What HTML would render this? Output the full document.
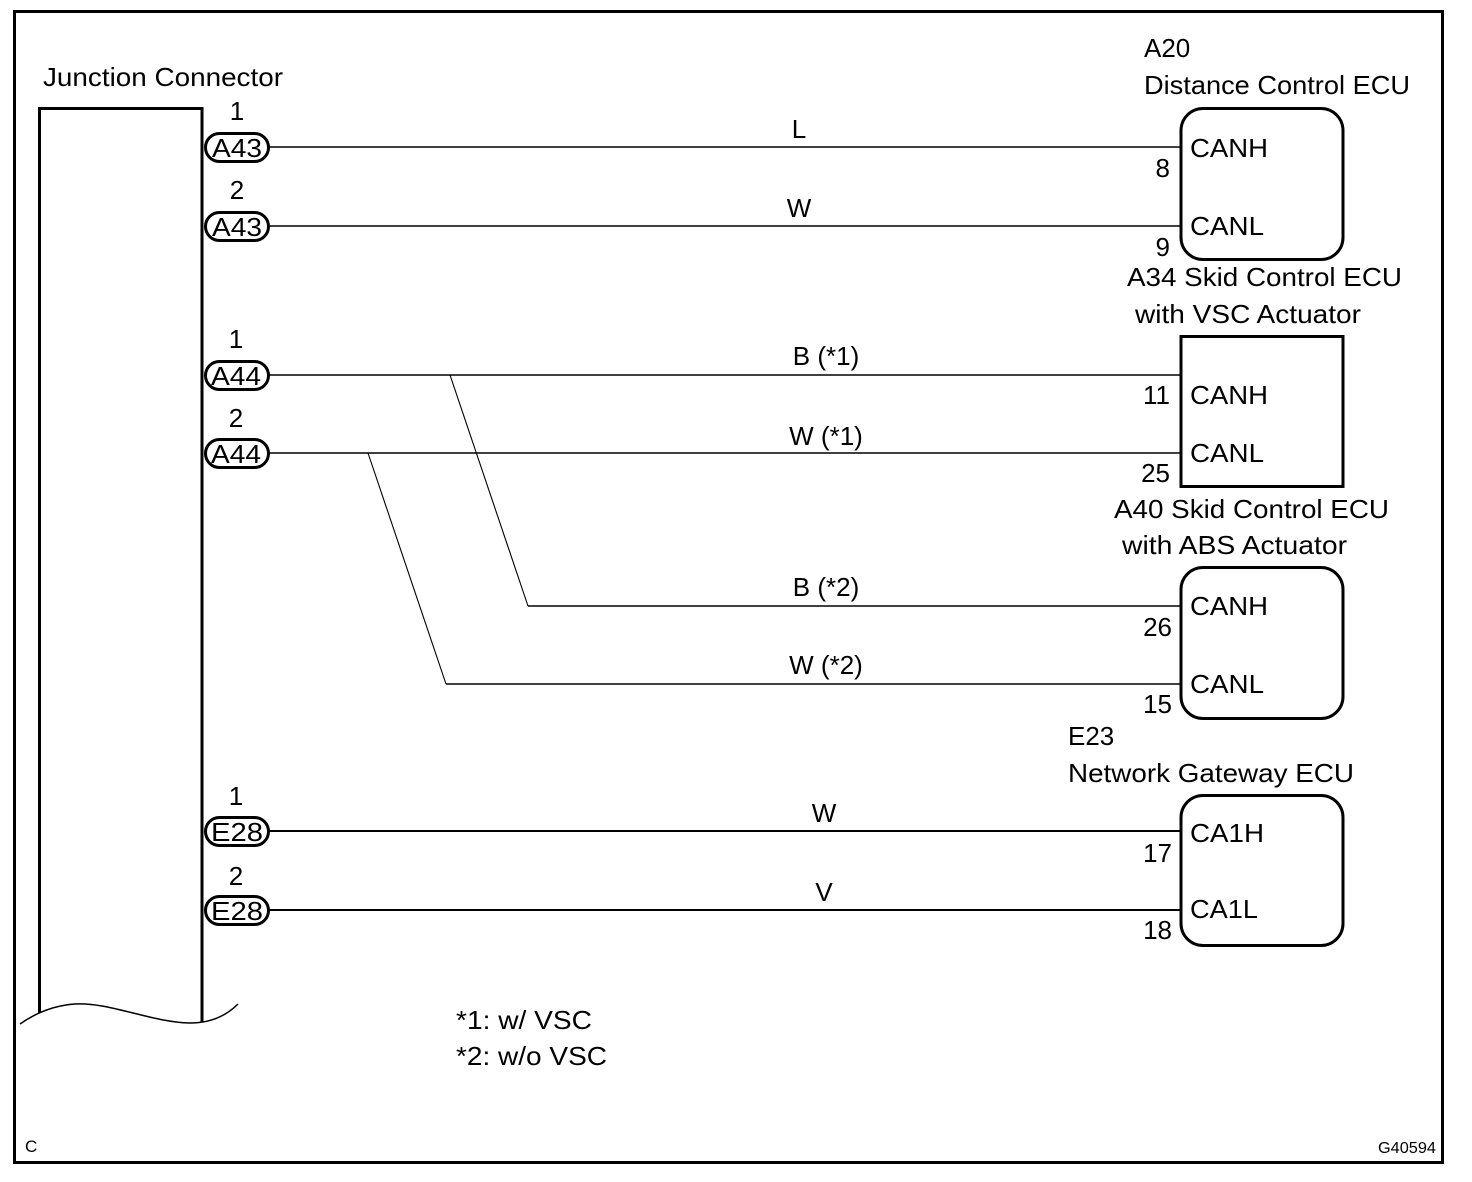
<!DOCTYPE html>
<html><head><meta charset="utf-8"><style>
html,body{margin:0;padding:0;background:#fff;}
svg{display:block;}
text{font-family:"Liberation Sans",Arial,sans-serif;fill:#000;}
</style></head><body>
<svg width="1472" height="1182" viewBox="0 0 1472 1182" xmlns="http://www.w3.org/2000/svg">
<rect x="14.5" y="11.5" width="1428" height="1151" fill="none" stroke="#000" stroke-width="3"/>
<path d="M39.5 1013 V108.5 H202 V1022" fill="none" stroke="#000" stroke-width="3"/>
<path d="M20 1024 C40 1010,60 1005,75 1004 C110 1002,150 1022,190 1023 C215 1023,230 1012,238 1004" fill="none" stroke="#000" stroke-width="1.5"/>
<text x="43" y="86" font-size="26" textLength="240" lengthAdjust="spacingAndGlyphs">Junction Connector</text>
<g font-size="26" text-anchor="middle">
<text x="237" y="120">1</text><text x="237" y="199">2</text>
<text x="236" y="348">1</text><text x="236" y="427">2</text>
<text x="236" y="805">1</text><text x="236" y="885">2</text>
</g>
<g fill="#fff" stroke="#000" stroke-width="3">
<rect x="205.5" y="133.5" width="63" height="28" rx="14"/>
<rect x="205.5" y="212.5" width="63" height="28" rx="14"/>
<rect x="205.5" y="361.5" width="63" height="28" rx="14"/>
<rect x="205.5" y="439.5" width="63" height="28" rx="14"/>
<rect x="205.5" y="817.5" width="63" height="28" rx="14"/>
<rect x="205.5" y="896.5" width="63" height="28" rx="14"/>
</g>
<g font-size="26">
<text x="212" y="157" textLength="50" lengthAdjust="spacingAndGlyphs">A43</text>
<text x="212" y="236" textLength="50" lengthAdjust="spacingAndGlyphs">A43</text>
<text x="211" y="385" textLength="50" lengthAdjust="spacingAndGlyphs">A44</text>
<text x="211" y="463" textLength="50" lengthAdjust="spacingAndGlyphs">A44</text>
<text x="211" y="841" textLength="52" lengthAdjust="spacingAndGlyphs">E28</text>
<text x="211" y="920" textLength="52" lengthAdjust="spacingAndGlyphs">E28</text>
</g>
<g stroke="#000" stroke-width="1.6" fill="none">
<line x1="269" y1="147" x2="1181" y2="147"/>
<line x1="269" y1="226" x2="1181" y2="226"/>
<line x1="269" y1="375" x2="1181" y2="375"/>
<line x1="269" y1="453" x2="1181" y2="453"/>
<line x1="528" y1="606" x2="1181" y2="606"/>
<line x1="446" y1="684" x2="1181" y2="684"/>
<line x1="269" y1="831" x2="1181" y2="831" stroke-width="2"/>
<line x1="269" y1="910" x2="1181" y2="910" stroke-width="2"/>
</g>
<g stroke="#000" stroke-width="1.1">
<line x1="450" y1="375" x2="528" y2="606"/>
<line x1="368" y1="453" x2="446" y2="684"/>
</g>
<g font-size="26" text-anchor="middle">
<text x="799" y="138">L</text>
<text x="799" y="217">W</text>
<text x="826" y="365">B (*1)</text>
<text x="826" y="445">W (*1)</text>
<text x="826" y="596">B (*2)</text>
<text x="826" y="674">W (*2)</text>
<text x="824" y="822">W</text>
<text x="824" y="901">V</text>
</g>
<g fill="none" stroke="#000" stroke-width="3">
<rect x="1181" y="108.5" width="162" height="151" rx="22"/>
<rect x="1181" y="336.5" width="162" height="150"/>
<rect x="1181" y="567.5" width="162" height="151" rx="22"/>
<rect x="1181" y="795.5" width="162" height="150" rx="22"/>
</g>
<g font-size="26" lengthAdjust="spacingAndGlyphs">
<text x="1144" y="57">A20</text>
<text x="1144" y="94" textLength="266" lengthAdjust="spacingAndGlyphs">Distance Control ECU</text>
<text x="1127" y="286" textLength="275" lengthAdjust="spacingAndGlyphs">A34 Skid Control ECU</text>
<text x="1135" y="323" textLength="226" lengthAdjust="spacingAndGlyphs">with VSC Actuator</text>
<text x="1114" y="518" textLength="275" lengthAdjust="spacingAndGlyphs">A40 Skid Control ECU</text>
<text x="1122" y="554" textLength="225" lengthAdjust="spacingAndGlyphs">with ABS Actuator</text>
<text x="1068" y="745">E23</text>
<text x="1068" y="782" textLength="286" lengthAdjust="spacingAndGlyphs">Network Gateway ECU</text>
<text x="1190" y="157" textLength="78" lengthAdjust="spacingAndGlyphs">CANH</text><text x="1190" y="235" textLength="74" lengthAdjust="spacingAndGlyphs">CANL</text>
<text x="1190" y="404" textLength="78" lengthAdjust="spacingAndGlyphs">CANH</text><text x="1190" y="462" textLength="74" lengthAdjust="spacingAndGlyphs">CANL</text>
<text x="1190" y="615" textLength="78" lengthAdjust="spacingAndGlyphs">CANH</text><text x="1190" y="693" textLength="74" lengthAdjust="spacingAndGlyphs">CANL</text>
<text x="1190" y="842" textLength="74" lengthAdjust="spacingAndGlyphs">CA1H</text><text x="1190" y="918" textLength="68" lengthAdjust="spacingAndGlyphs">CA1L</text>
</g>
<g font-size="26" text-anchor="end">
<text x="1170" y="177">8</text><text x="1170" y="256">9</text>
<text x="1170" y="404">11</text><text x="1170" y="482">25</text>
<text x="1172" y="636">26</text><text x="1172" y="713">15</text>
<text x="1172" y="862">17</text><text x="1172" y="939">18</text>
</g>
<text x="456" y="1029" font-size="26" textLength="136" lengthAdjust="spacingAndGlyphs">*1: w/ VSC</text>
<text x="456" y="1065" font-size="26" textLength="151" lengthAdjust="spacingAndGlyphs">*2: w/o VSC</text>
<text x="25" y="1152" font-size="17">C</text>
<text x="1436" y="1153" font-size="16" text-anchor="end" textLength="58" lengthAdjust="spacingAndGlyphs">G40594</text>
</svg>
</body></html>
